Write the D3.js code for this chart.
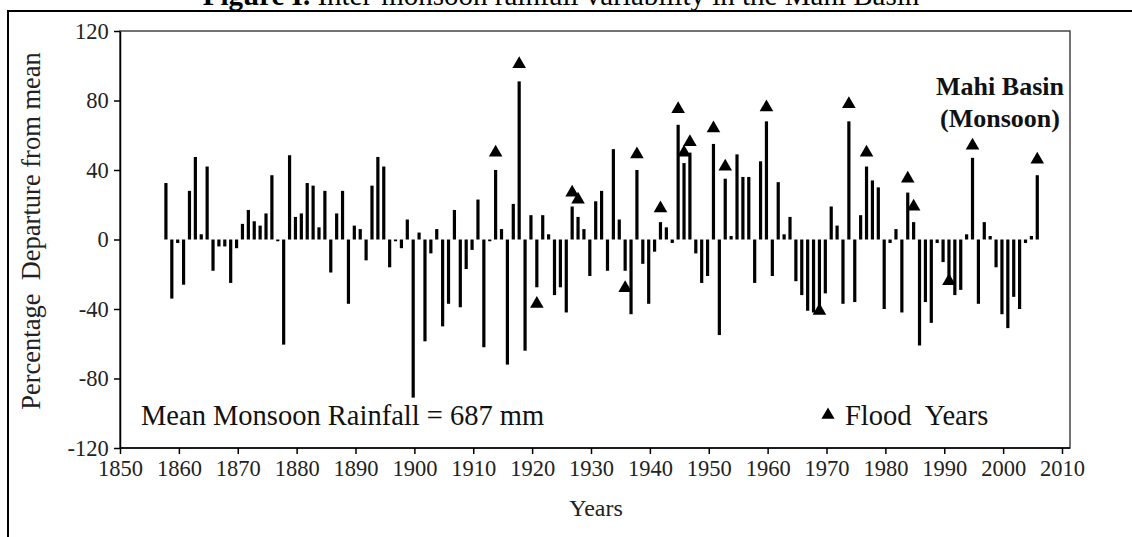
<!DOCTYPE html>
<html>
<head>
<meta charset="utf-8">
<script src="https://cdn.jsdelivr.net/npm/d3@7"></script>
<style>
  body { margin: 0; background: #fff; }
  svg { display: block; }
  text { font-family: "Liberation Serif", "Times New Roman", serif; }
</style>
</head>
<body>
<svg width="1132" height="537"></svg>
<script>
const width = 1132;
const height = 537;

// departure from mean (%), one value per year starting at firstYear
const firstYear = 1857;
const departure = [
  32.5, -34, -2, -26, 28, 47.5, 3, 42, -18, -4,
  -4, -25, -5, 9, 17, 10.5, 8, 15, 37, -1,
  -60.5, 48.5, 13, 15, 32.5, 31, 7, 28, -19, 15,
  28, -37, 8, 6, -12, 31, 47.5, 42, -16, -1,
  -5, 11.5, -91, 4, -58.6, -8, 6, -50, -37, 17,
  -39, -17, -6, 23, -62, -1, 40, 6, -72, 20.5,
  91, -64, 14, -27.5, 14, 3, -32, -27.5, -42, 19,
  13, 6, -21, 22, 28, -18, 52, 11.5, -18, -43,
  40, -14, -37, -7, 10, 7, -2, 66, 44, 50,
  -8, -25, -21, 55, -55, 35, 2, 49, 36, 36,
  -25, 45, 68, -21, 33, 3, 13, -24, -32, -41,
  -42, -40, -31, 19, 8, -37, 68, -36, 14, 42,
  34, 30, -40, -2, 6, -42, 27, 10, -61, -36,
  -48, -2, -13, -24, -32, -29, 3, 47, -37, 10,
  2, -16, -43, -51, -33, -40, -2, 2, 37
];
const years = departure.map((_, i) => firstYear + i);

// flood years and the marker values
const floodYears = [1913, 1917, 1920, 1926, 1927, 1935, 1937, 1941, 1944, 1945, 1946,
                    1950, 1952, 1959, 1968, 1973, 1976, 1983, 1984, 1990, 1994, 2005];
const floodValues = [50, 101, -37, 27, 23, -28, 49, 18, 75, 50, 56,
                     64, 42, 76, -41, 78, 50, 35, 19, -24, 54, 46];

const xTicks = d3.range(1850, 2011, 10);
const yTicks = d3.range(-120, 121, 40);

const box = { left: 120, right: 1070, top: 31, bottom: 448 };
const barShift = 0.8; // bars sit a little right of the year tick in the original

const x = d3.scaleLinear().domain([1850, 2010]).range([box.left, 1062]);
const y = d3.scaleLinear().domain([-120, 120]).range([box.bottom, box.top]);

const svg = d3.select("svg");

// outer figure frame
svg.append("rect")
    .attr("x", 8).attr("y", 11)
    .attr("width", width + 20).attr("height", height + 20)
    .attr("fill", "none")
    .attr("stroke", "#000")
    .attr("stroke-width", 2);

// figure title, cut off by the top of the picture
svg.append("text")
    .attr("x", 561).attr("y", 5)
    .attr("text-anchor", "middle")
    .attr("font-size", 29)
    .html('<tspan font-weight="bold">Figure I.</tspan> Inter-monsoon rainfall variability in the Mahi Basin');

// plot box
svg.append("rect")
    .attr("x", box.left).attr("y", box.top)
    .attr("width", box.right - box.left)
    .attr("height", box.bottom - box.top)
    .attr("fill", "none")
    .attr("stroke", "#444")
    .attr("stroke-width", 1.5);

// bars
svg.append("g")
  .selectAll("rect")
  .data(years)
  .join("rect")
    .attr("x", d => x(d + barShift) - 1.6)
    .attr("width", 3.2)
    .attr("y", (d, i) => y(Math.max(0, departure[i])))
    .attr("height", (d, i) => Math.abs(y(departure[i]) - y(0)))
    .attr("fill", "#000");

// flood markers
svg.append("g")
  .selectAll("path")
  .data(floodYears)
  .join("path")
    .attr("d", d3.symbol(d3.symbolTriangle, 80))
    .attr("transform", (d, i) => `translate(${x(d + barShift)},${y(floodValues[i])})`)
    .attr("fill", "#000");

// axes
const xAxis = svg.append("g")
    .attr("transform", `translate(0,${y(-120)})`)
    .call(d3.axisBottom(x).tickValues(xTicks).tickFormat(d => String(d)).tickSize(6).tickSizeOuter(0));
xAxis.select(".domain").attr("stroke-width", 1.5).attr("d", `M${box.left},0H${box.right}`);

const yAxis = svg.append("g")
    .attr("transform", `translate(${box.left},0)`)
    .call(d3.axisLeft(y).tickValues(yTicks).tickFormat(d => String(d)).tickSize(6).tickSizeOuter(0));
yAxis.select(".domain").attr("stroke-width", 1.5);

svg.selectAll(".tick line").attr("stroke-width", 1.5);
svg.selectAll(".tick text")
    .attr("font-family", "Liberation Serif, serif")
    .attr("font-size", 22.5)
    .attr("fill", "#222");
xAxis.selectAll(".tick text").attr("dy", "0.85em");
yAxis.selectAll(".tick text").attr("dx", "-0.1em");

// axis titles
svg.append("text")
    .attr("transform", `translate(40,231) rotate(-90)`)
    .attr("text-anchor", "middle")
    .attr("font-size", 26.5)
    .attr("fill", "#222")
    .attr("xml:space", "preserve")
    .text("Percentage  Departure from mean");

svg.append("text")
    .attr("x", 596).attr("y", 516)
    .attr("text-anchor", "middle")
    .attr("font-size", 24)
    .attr("fill", "#222")
    .text("Years");

// annotations
svg.append("text")
    .attr("x", 141).attr("y", 425)
    .attr("font-size", 28.5)
    .attr("fill", "#111")
    .text("Mean Monsoon Rainfall = 687 mm");

svg.append("path")
    .attr("d", d3.symbol(d3.symbolTriangle, 75))
    .attr("transform", "translate(828,415)")
    .attr("fill", "#000");
svg.append("text")
    .attr("x", 845).attr("y", 425)
    .attr("font-size", 28.5)
    .attr("fill", "#111")
    .attr("xml:space", "preserve")
    .text("Flood  Years");

const basin = svg.append("text")
    .attr("text-anchor", "middle")
    .attr("font-size", 26)
    .attr("font-weight", "bold")
    .attr("fill", "#111");
basin.append("tspan").attr("x", 1000).attr("y", 95).text("Mahi Basin");
basin.append("tspan").attr("x", 1000).attr("y", 127).text("(Monsoon)");
</script>
</body>
</html>
